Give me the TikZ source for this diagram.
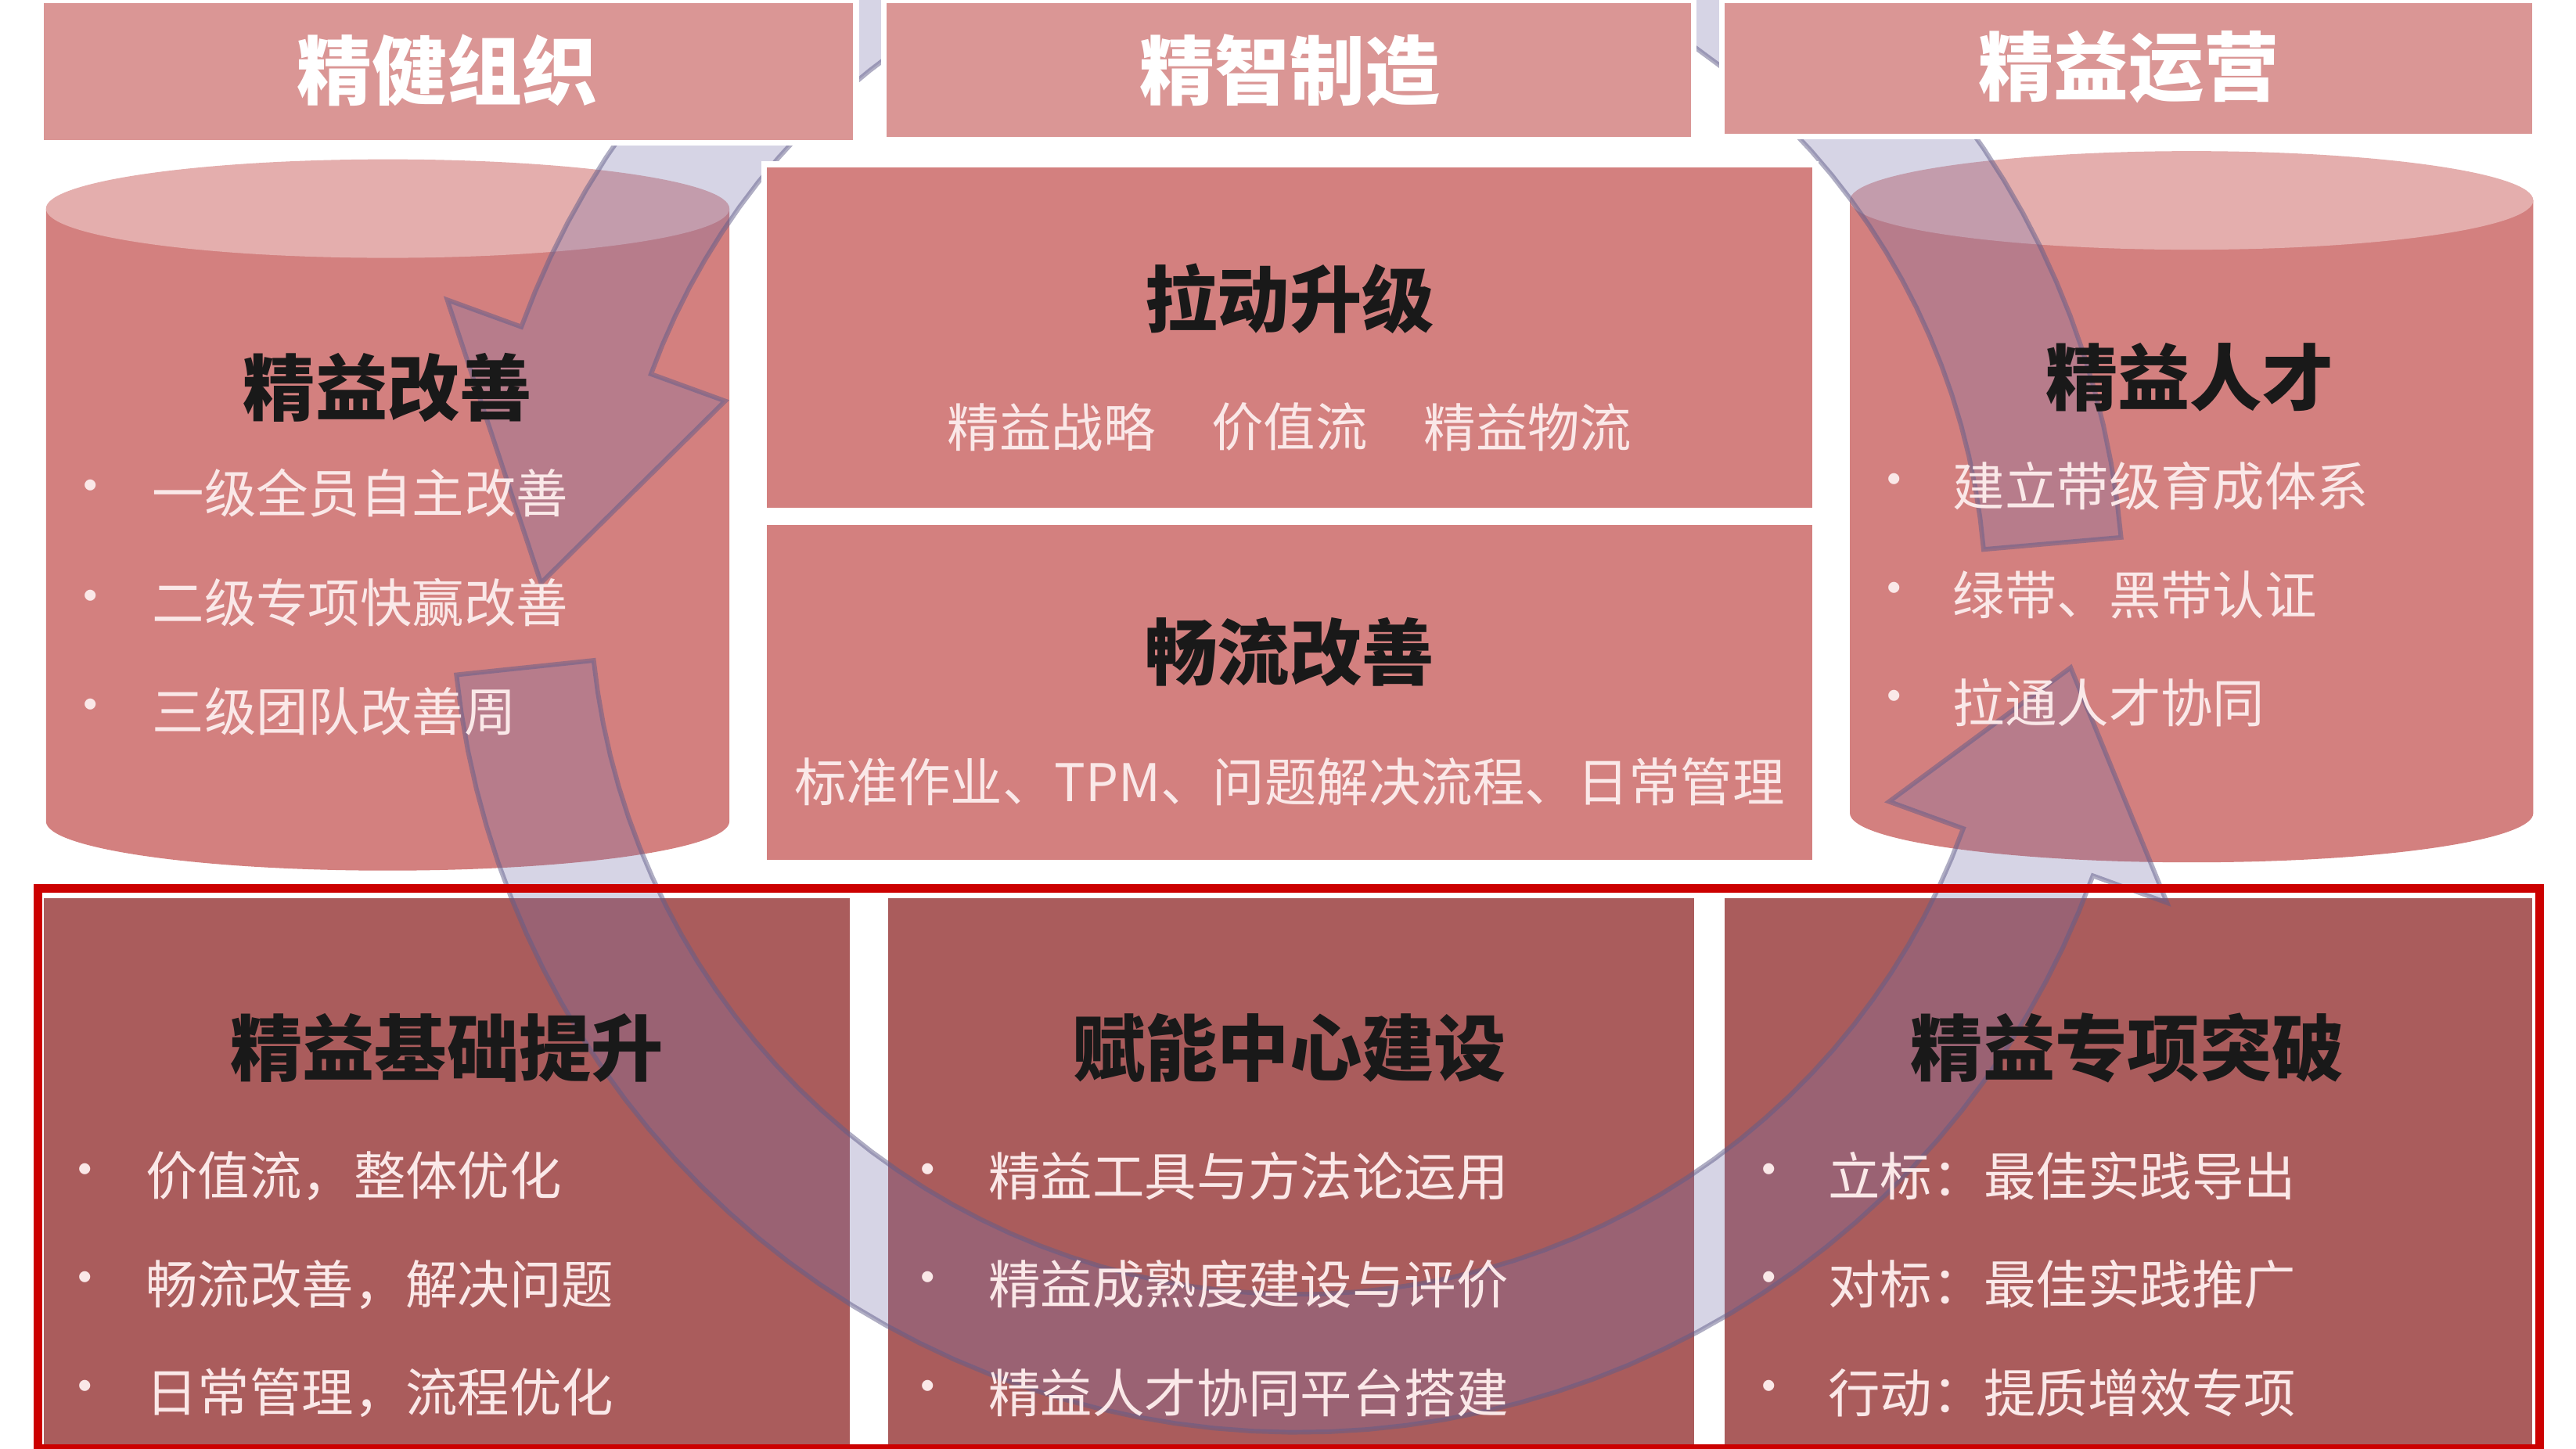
\documentclass[tikz,border=0pt]{standalone}
\usepackage{fontspec}
\setmainfont{Noto Sans CJK SC}
\usetikzlibrary{positioning}
\definecolor{headfill}{RGB}{218,150,149}
\definecolor{midfill}{RGB}{211,128,127}
\definecolor{topcap}{RGB}{228,174,173}
\definecolor{basefill}{RGB}{170,92,92}
\definecolor{ringfill}{RGB}{120,115,170}
\definecolor{lighttext}{RGB}{250,232,232}
\tikzset{
  header/.style={fill=headfill, draw=white, line width=1pt},
  midbox/.style={fill=midfill, draw=white, line width=1pt},
  basebox/.style={fill=basefill, draw=white, line width=1pt},
  title/.style={font=\fontsize{12.5}{15}\selectfont\bfseries, text=black!90},
  headtxt/.style={font=\fontsize{13}{15}\selectfont\bfseries, text=white},
  item/.style={font=\fontsize{9}{11}\selectfont, text=lighttext, anchor=west, inner sep=0pt},
  dot/.style={font=\fontsize{9}{11}\selectfont, text=lighttext, inner sep=0pt},
  ring/.style={fill=ringfill, fill opacity=0.3, draw=ringfill!80!black, draw opacity=0.5, line width=0.8pt}
}
% ring arrow: centre y, radius, start angle, head base angle, tip angle
\newcommand\ringarrow[5]{%
  \path[ring] plot[domain=#3:#4, samples=60, variable=\t] ({790+(#2+42)*cos(\t)},{#1-(#2+42)*sin(\t)})
    -- ({790+(#2+90)*cos(#4)},{#1-(#2+90)*sin(#4)})
    -- ({790+#2*cos(#5)},{#1-#2*sin(#5)})
    -- ({790+(#2-90)*cos(#4)},{#1-(#2-90)*sin(#4)})
    -- plot[domain=#4:#3, samples=60, variable=\t] ({790+(#2-42)*cos(\t)},{#1-(#2-42)*sin(\t)})
    -- cycle;}
\begin{document}
\begin{tikzpicture}[x=0.01cm, y=-0.01cm]
  \useasboundingbox[fill=white] (0,0) rectangle (1568,882);
  % cylinders
  \fill[midfill] (28,127) -- (28,500) arc[start angle=180, end angle=0, x radius=208, y radius=30] -- (444,127) -- cycle;
  \fill[topcap] (236,127) ellipse[x radius=208, y radius=30];
  \fill[midfill] (1126,122) -- (1126,495) arc[start angle=180, end angle=0, x radius=208, y radius=30] -- (1542,122) -- cycle;
  \fill[topcap] (1334,122) ellipse[x radius=208, y radius=30];
  % bottom row
  \path[basebox] (25,545) rectangle (519,882);
  \path[basebox] (539,545) rectangle (1033,882);
  \path[basebox] (1048,545) rectangle (1543,882);
  % ring arrows
  \ringarrow{371}{461}{5}{160}{178}
  \ringarrow{357}{473}{186}{340}{354}
  % centre boxes
  \path[midbox] (465,100) rectangle (1105,311);
  \path[midbox] (465,318) rectangle (1105,525);
  % headers
  \path[header] (25,0) rectangle (521,87);
  \path[header] (538,0) rectangle (1031,85);
  \path[header] (1048,0) rectangle (1543,83);
  \node[headtxt] (h1) at (272,43) {精健组织};
  \node[headtxt] (h2) at (785,43) {精智制造};
  \node[headtxt] (h3) at (1296,41) {精益运营};
  \draw[red!80!black, line width=1.5pt] (23,541) rectangle (1546,882);
  % titles
  \node[title] (t1) at (236,236) {精益改善};
  \node[title] (t2) at (785,182) {拉动升级};
  \node[title] (t3) at (785,397) {畅流改善};
  \node[title] (t4) at (1333,230) {精益人才};
  \node[title] (t5) at (272,638) {精益基础提升};
  \node[title] (t6) at (785,638) {赋能中心建设};
  \node[title] (t7) at (1295,638) {精益专项突破};
  % centre lines
  \node[item, anchor=center] (s1) at (640,260) {精益战略};
  \node[item, anchor=center] (s2) at (785,260) {价值流};
  \node[item, anchor=center] (s3) at (930,260) {精益物流};
  \node[item, anchor=center] (s4) at (785,476) {标准作业、TPM、问题解决流程、日常管理};
  % bullet lists
  \foreach \bx/\tx/\ya/\yb/\yc/\la/\lb/\lc in {
      55/92/300/367/433/一级全员自主改善/二级专项快赢改善/三级团队改善周,
      1153/1188/296/362/428/建立带级育成体系/绿带、黑带认证/拉通人才协同,
      52/88/716/782/848/价值流，整体优化/畅流改善，解决问题/日常管理，流程优化,
      565/601/716/782/848/精益工具与方法论运用/精益成熟度建设与评价/精益人才协同平台搭建,
      1077/1112/716/782/848/立标：最佳实践导出/对标：最佳实践推广/行动：提质增效专项}{
    \foreach \yy/\ll in {\ya/\la, \yb/\lb, \yc/\lc}{
      \node[dot] at (\bx,\yy) {•};
      \node[item] at (\tx,\yy) {\ll};
    }
  }
\end{tikzpicture}
\end{document}
